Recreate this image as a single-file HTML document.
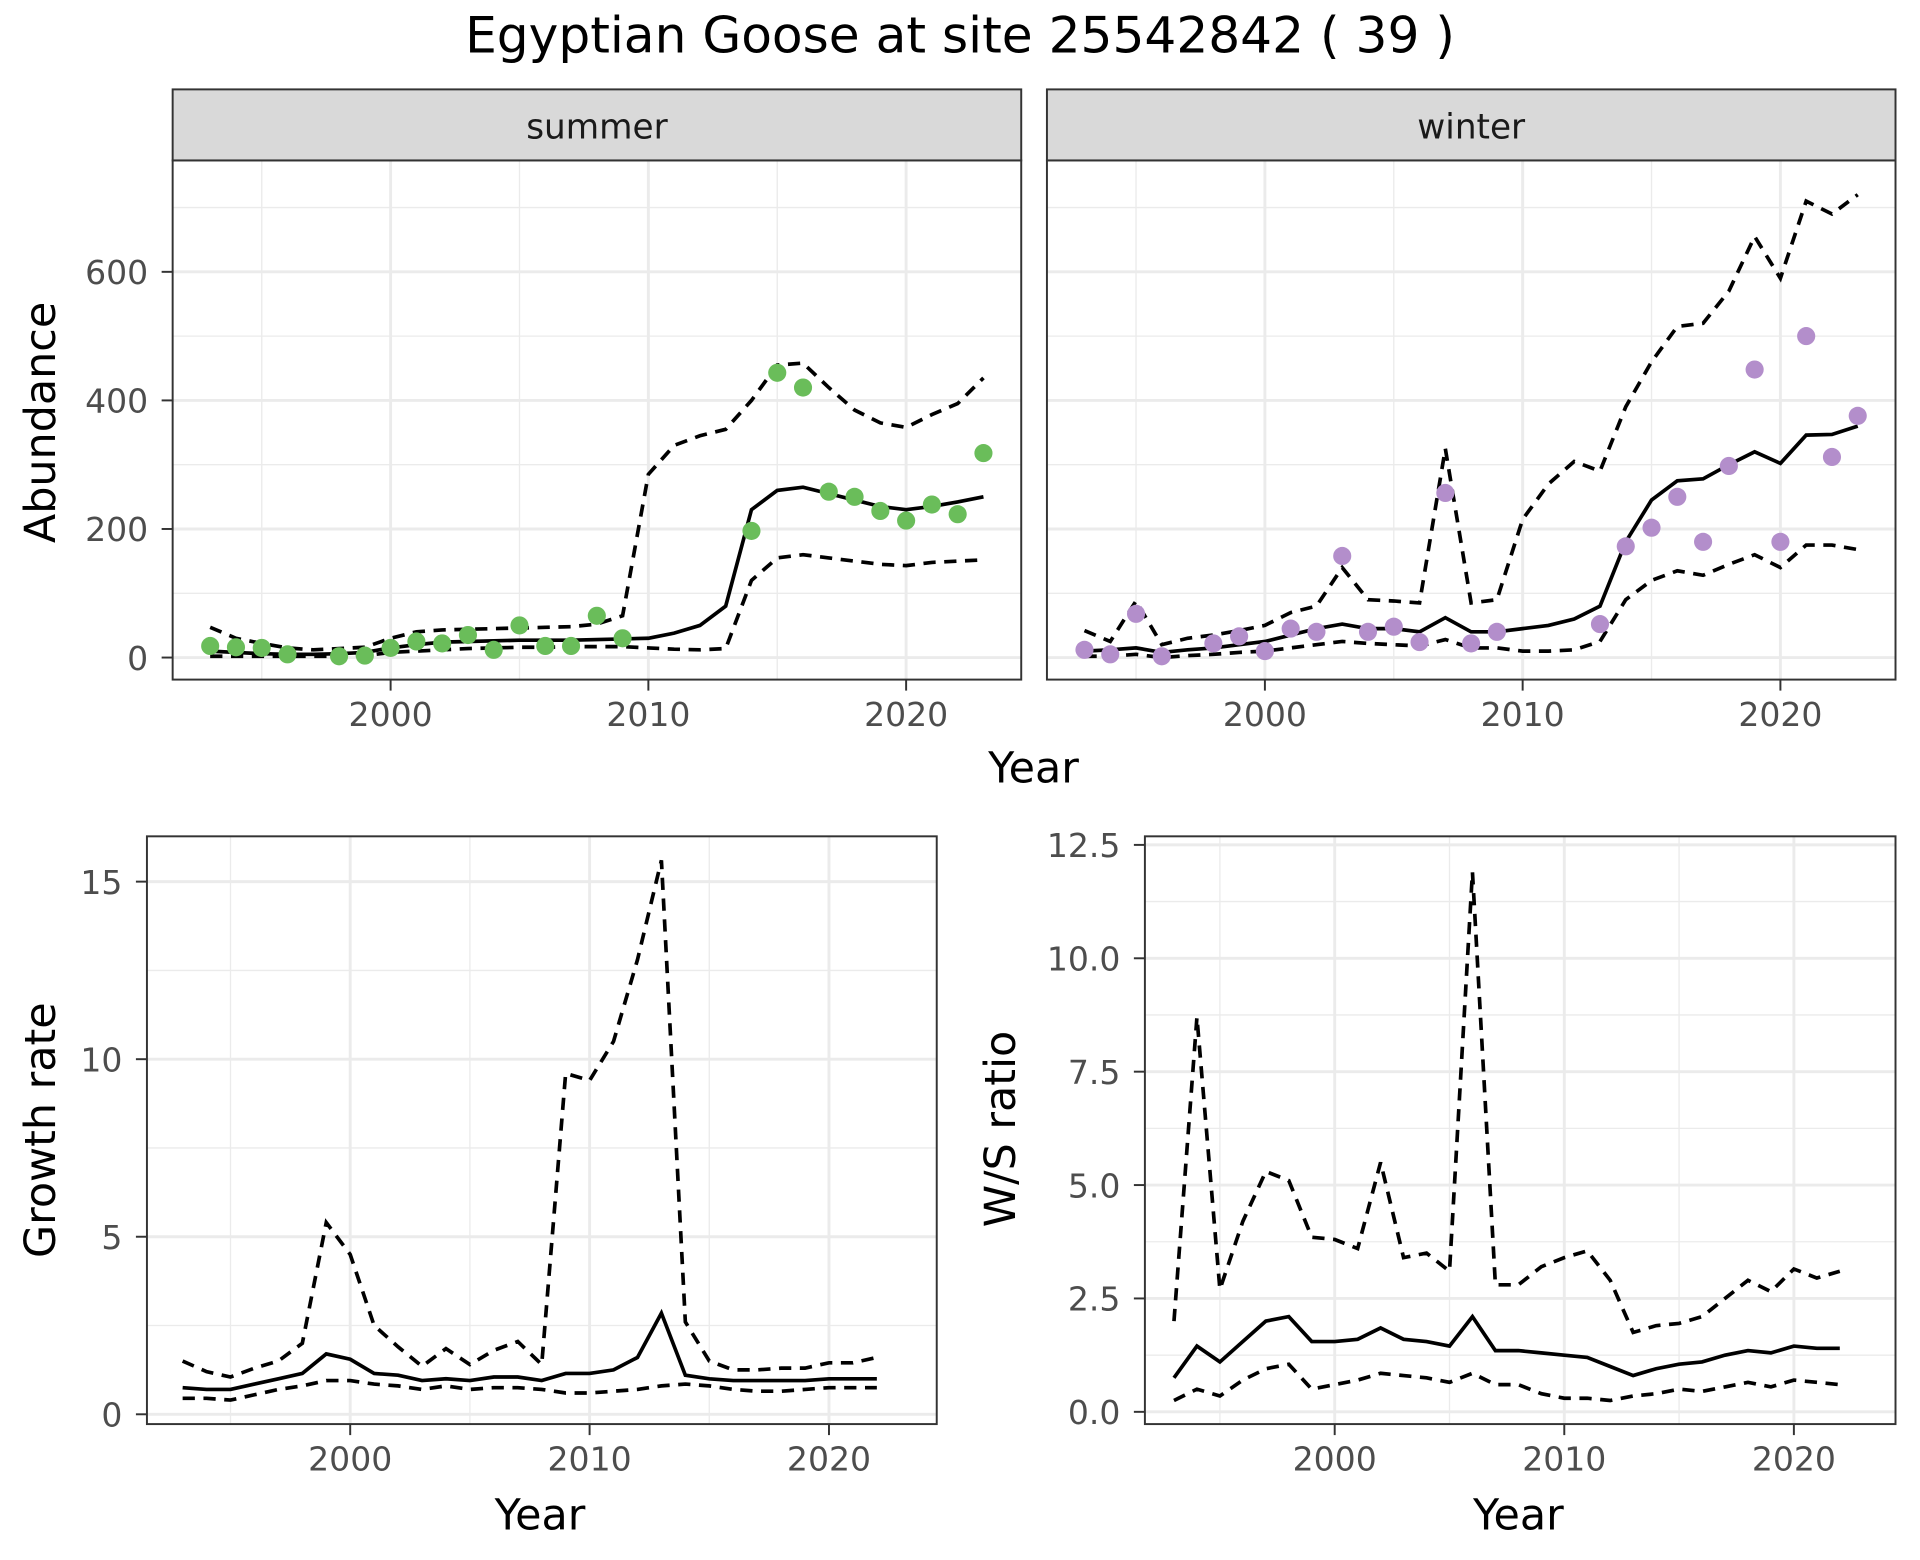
<!DOCTYPE html>
<html><head><meta charset="utf-8"><style>
html,body{margin:0;padding:0;background:#fff;}
svg{display:block;font-family:"DejaVu Sans","Liberation Sans",sans-serif;}
</style></head><body>
<svg id="c" width="1920" height="1560" viewBox="0 0 1568 1274" xmlns="http://www.w3.org/2000/svg">
<text x="784" y="43" font-size="41" text-anchor="middle" fill="#000">Egyptian Goose at site 25542842 ( 39 )</text>
</svg>
<script>
const years=[1993,1994,1995,1996,1997,1998,1999,2000,2001,2002,2003,2004,2005,2006,2007,2008,2009,2010,2011,2012,2013,2014,2015,2016,2017,2018,2019,2020,2021,2022,2023];
const summerPtYears=[1993,1994,1995,1996,1998,1999,2000,2001,2002,2003,2004,2005,2006,2007,2008,2009,2014,2015,2016,2017,2018,2019,2020,2021,2022,2023];
const summerPts=[18,16,15,5,2,3,15,25,22,35,12,50,18,18,65,30,197,443,420,258,250,228,213,238,223,318];
const summerMid=[10,8,6,5,5,6,8,15,20,24,25,26,27,27,27,28,29,30,38,50,80,230,260,265,255,245,235,230,235,242,250];
const summerUp=[47,30,22,15,12,14,16,30,40,43,44,45,46,47,48,52,65,285,330,345,355,400,455,458,420,385,365,358,378,395,435];
const summerLo=[2,2,2,2,2,2,3,8,10,12,14,15,16,16,17,17,17,15,13,12,14,120,155,160,155,150,145,143,148,150,152];
const winterPtYears=[1993,1994,1995,1996,1998,1999,2000,2001,2002,2003,2004,2005,2006,2007,2008,2009,2013,2014,2015,2016,2017,2018,2019,2020,2021,2022,2023];
const winterPts=[12,5,68,2,22,33,10,45,40,158,40,48,24,256,22,40,52,173,202,250,180,298,448,180,500,312,376];
const winterMid=[10,12,15,8,12,15,20,25,35,45,52,45,45,40,62,40,40,45,50,60,80,180,245,275,278,300,320,302,346,347,360];
const winterUp=[42,25,88,20,30,35,42,50,70,80,140,90,88,85,325,85,90,215,270,305,290,390,460,515,520,570,655,590,710,690,720];
const winterLo=[2,2,5,0,3,5,8,10,15,20,25,22,20,18,28,15,15,10,10,12,25,90,120,135,128,145,160,140,175,175,168];
const gYears=years.slice(0,30);
const growthMid=[0.75,0.7,0.7,0.85,1.0,1.15,1.7,1.55,1.15,1.1,0.95,1.0,0.95,1.05,1.05,0.95,1.15,1.15,1.25,1.6,2.85,1.1,1.0,0.95,0.95,0.95,0.95,1.0,1.0,1.0];
const growthUp=[1.5,1.2,1.05,1.3,1.5,2.0,5.4,4.5,2.5,1.9,1.35,1.85,1.4,1.8,2.05,1.4,9.6,9.4,10.5,12.8,15.6,2.6,1.5,1.25,1.25,1.3,1.3,1.45,1.45,1.6];
const growthLo=[0.45,0.45,0.4,0.55,0.7,0.8,0.95,0.95,0.85,0.8,0.7,0.8,0.7,0.75,0.75,0.7,0.6,0.6,0.65,0.7,0.8,0.85,0.8,0.7,0.65,0.65,0.7,0.75,0.75,0.75];
const wsMid=[0.75,1.45,1.1,1.55,2.0,2.1,1.55,1.55,1.6,1.85,1.6,1.55,1.45,2.1,1.35,1.35,1.3,1.25,1.2,1.0,0.8,0.95,1.05,1.1,1.25,1.35,1.3,1.45,1.4,1.4];
const wsUp=[2.0,8.7,2.7,4.2,5.3,5.1,3.85,3.8,3.6,5.5,3.4,3.5,3.1,11.9,2.8,2.8,3.2,3.4,3.55,2.9,1.75,1.9,1.95,2.1,2.5,2.9,2.65,3.15,2.95,3.1];
const wsLo=[0.25,0.5,0.35,0.7,0.95,1.05,0.5,0.6,0.7,0.85,0.8,0.75,0.65,0.85,0.6,0.6,0.4,0.3,0.3,0.25,0.35,0.4,0.5,0.45,0.55,0.65,0.55,0.7,0.65,0.6];
const xTicks=[2000,2010,2020];
const abTicks=[0,200,400,600];
const grTicks=[0,5,10,15];
const wsTicks=[0,2.5,5,7.5,10,12.5];
const wsLabels=["0.0","2.5","5.0","7.5","10.0","12.5"];

const NS="http://www.w3.org/2000/svg";
const svg=document.getElementById('c');
function mk(tag,attrs,parent){const e=document.createElementNS(NS,tag);for(const k in attrs)e.setAttribute(k,attrs[k]);(parent||svg).appendChild(e);return e;}
function lin(d0,d1,r0,r1){return v=>r0+(v-d0)*(r1-r0)/(d1-d0);}

function panel(o){
  const g=mk('g',{});
  
  
  mk('rect',{x:o.x0,y:o.y0,width:o.x1-o.x0,height:o.y1-o.y0,fill:'#fff'},g);
  o.xMinor.forEach(v=>mk('line',{x1:o.sx(v),x2:o.sx(v),y1:o.y0,y2:o.y1,stroke:'#ebebeb','stroke-width':1.1},g));
  o.yMinor.forEach(v=>mk('line',{x1:o.x0,x2:o.x1,y1:o.sy(v),y2:o.sy(v),stroke:'#ebebeb','stroke-width':1.1},g));
  xTicks.forEach(v=>mk('line',{x1:o.sx(v),x2:o.sx(v),y1:o.y0,y2:o.y1,stroke:'#ebebeb','stroke-width':2.4},g));
  o.yTicks.forEach(v=>mk('line',{x1:o.x0,x2:o.x1,y1:o.sy(v),y2:o.sy(v),stroke:'#ebebeb','stroke-width':2.4},g));
  const ser=[[o.up,'10,7'],[o.lo,'10,7'],[o.mid,null]];
  ser.forEach(([arr,dash],i)=>{
    const p=mk('polyline',{points:arr.map((v,j)=>o.sx(o.yrs[j])+','+o.sy(v)).join(' '),fill:'none',stroke:'#000','stroke-width':3},g);
    if(dash)p.setAttribute('stroke-dasharray',dash);
    
    
  });
  if(o.pts){o.pts.forEach((v,j)=>{const c=mk('circle',{cx:o.sx(o.ptYears[j]),cy:o.sy(v),r:7.4,fill:o.col},g);
    
    });}
  mk('rect',{x:o.x0,y:o.y0,width:o.x1-o.x0,height:o.y1-o.y0,fill:'none',stroke:'#333','stroke-width':1.6},g);
  if(o.showY){o.yTicks.forEach((v,i)=>{const y=o.sy(v);mk('line',{x1:o.x0-9,x2:o.x0,y1:y,y2:y,stroke:'#333','stroke-width':1.6},g);
    const t=mk('text',{x:o.x0-20,y:y+10,'font-size':27,'text-anchor':'end',fill:'#4d4d4d'},g);t.textContent=o.yLab?o.yLab[i]:v;
    
    });}
  xTicks.forEach(v=>{const x=o.sx(v);mk('line',{x1:x,x2:x,y1:o.y1,y2:o.y1+9,stroke:'#333','stroke-width':1.6},g);
    const t=mk('text',{x:x,y:o.y1+38,'font-size':27,'text-anchor':'middle',fill:'#4d4d4d'},g);t.textContent=v;
    
    });
  if(o.strip){const s=mk('rect',{x:o.x0,y:o.y0-58,width:o.x1-o.x0,height:58,fill:'#d9d9d9',stroke:'#333','stroke-width':1.6},g);
    
    
    const t=mk('text',{x:(o.x0+o.x1)/2,y:o.y0-18,'font-size':28,'text-anchor':'middle',fill:'#1a1a1a'},g);t.textContent=o.strip;
    
    }
}
function title(txt,x,y,rot,name){const t=mk('text',{x:x,y:y,'font-size':35,'text-anchor':'middle',fill:'#000'});
  if(rot)t.setAttribute('transform','rotate(-90 '+x+' '+y+')');t.textContent=txt;
  
  }

const syA=lin(0,600,537,222);
panel({name:'summer-panel',x0:141,x1:834,y0:131,y1:555,sx:lin(2000,2020,319,740),sy:syA,yTicks:abTicks,yMinor:[100,300,500,700],xMinor:[1995,2005,2015],yrs:years,mid:summerMid,up:summerUp,lo:summerLo,pts:summerPts,ptYears:summerPtYears,col:'#6abd5a',showY:true,strip:'summer'});
panel({name:'winter-panel',x0:855,x1:1548,y0:131,y1:555,sx:lin(2000,2020,1033,1454),sy:syA,yTicks:abTicks,yMinor:[100,300,500,700],xMinor:[1995,2005,2015],yrs:years,mid:winterMid,up:winterUp,lo:winterLo,pts:winterPts,ptYears:winterPtYears,col:'#b38ecb',showY:false,strip:'winter'});
title('Year',844,639,false,'x-axis-title-top');
title('Abundance',45,345,true,'y-axis-title-abundance');
panel({name:'growth-panel',x0:120,x1:765,y0:683,y1:1163,sx:lin(2000,2020,286,677),sy:lin(0,15,1155,720),yTicks:grTicks,yMinor:[2.5,7.5,12.5],xMinor:[1995,2005,2015],yrs:gYears,mid:growthMid,up:growthUp,lo:growthLo,showY:true});
title('Year',441,1249,false,'x-axis-title-growth');
title('Growth rate',45,923,true,'y-axis-title-growth');
panel({name:'ws-ratio-panel',x0:935,x1:1548,y0:683,y1:1163,sx:lin(2000,2020,1090,1465),sy:lin(0,12.5,1153,690),yTicks:wsTicks,yLab:wsLabels,yMinor:[1.25,3.75,6.25,8.75,11.25],xMinor:[1995,2005,2015],yrs:gYears,mid:wsMid,up:wsUp,lo:wsLo,showY:true});
title('Year',1240,1249,false,'x-axis-title-ws');
title('W/S ratio',829,922,true,'y-axis-title-ws');
</script>
</body></html>
